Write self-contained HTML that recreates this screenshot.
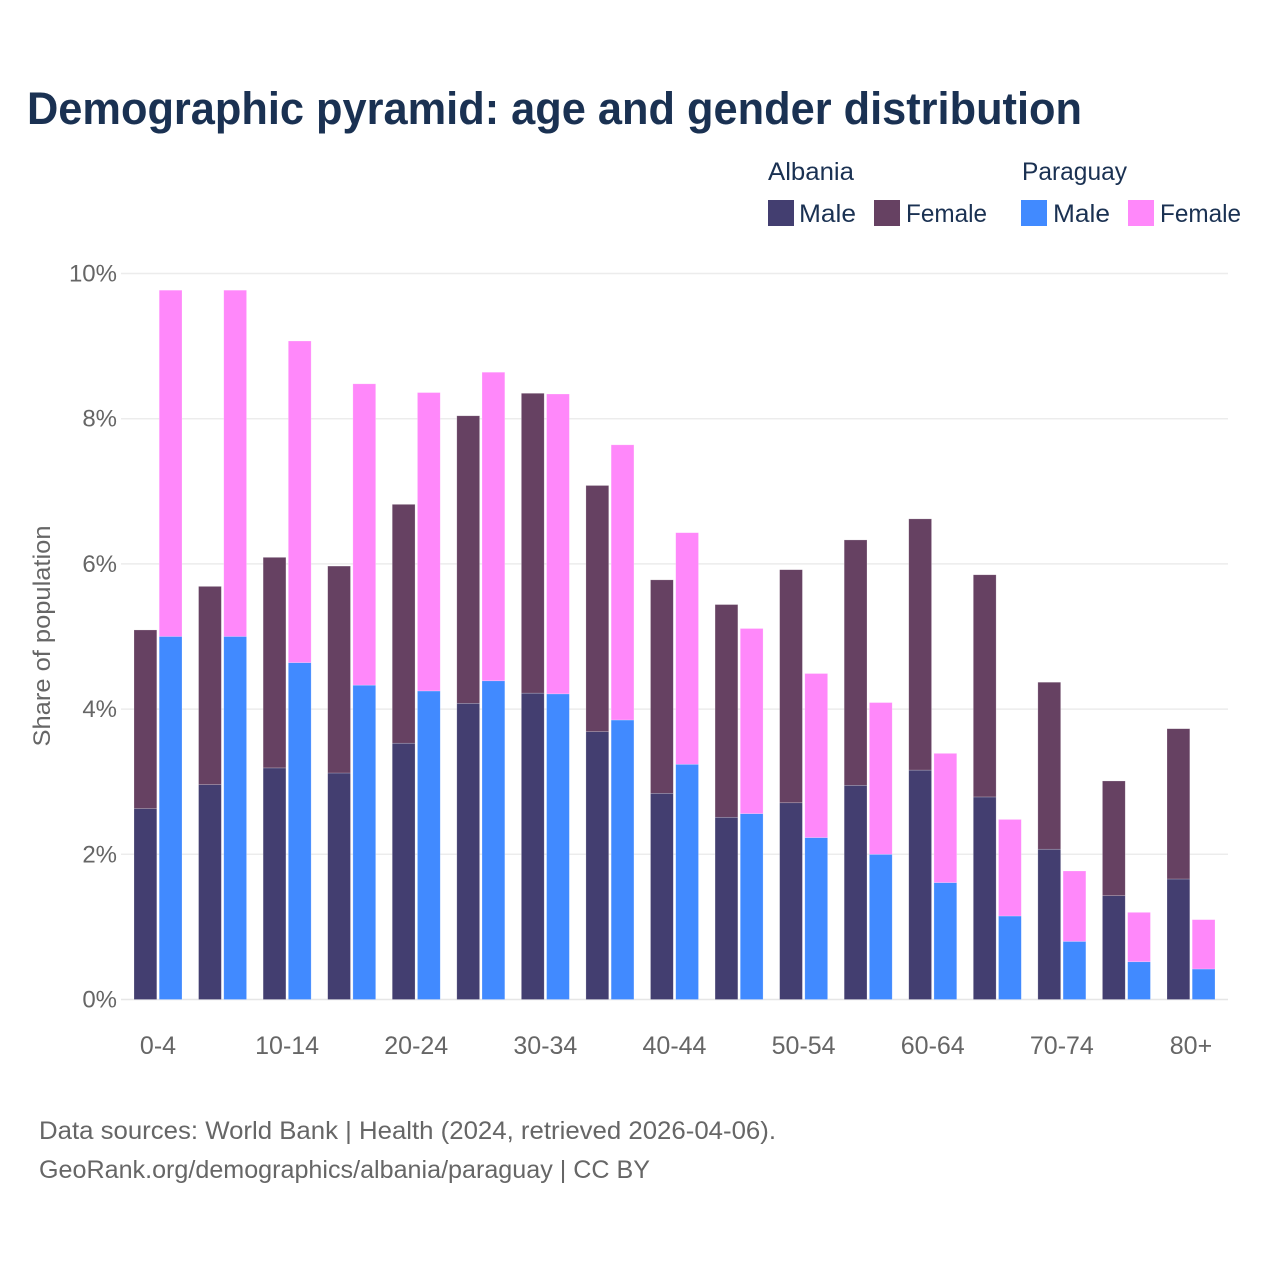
<!DOCTYPE html>
<html lang="en">
<head>
<meta charset="utf-8">
<title>Demographic pyramid: age and gender distribution</title>
<style>
html,body{margin:0;padding:0;background:#fff;}
svg{display:block;font-family:"Liberation Sans",sans-serif;}
</style>
</head>
<body>
<svg id="chart" xmlns="http://www.w3.org/2000/svg" width="1280" height="1280" viewBox="0 0 1280 1280">
  <rect x="0" y="0" width="1280" height="1280" fill="#ffffff"/>
  <text x="27" y="124" font-size="45" font-weight="700" fill="#1a3152" textLength="1055" lengthAdjust="spacingAndGlyphs">Demographic pyramid: age and gender distribution</text>

  <g font-size="25" fill="#1a3152">
    <text x="768" y="180" textLength="86" lengthAdjust="spacingAndGlyphs">Albania</text>
    <text x="1022" y="180" textLength="105" lengthAdjust="spacingAndGlyphs">Paraguay</text>
    <rect x="768" y="200" width="26" height="26" fill="#433e70"/>
    <text x="799" y="222" textLength="57" lengthAdjust="spacingAndGlyphs">Male</text>
    <rect x="874" y="200" width="26" height="26" fill="#664162"/>
    <text x="906" y="222" textLength="81" lengthAdjust="spacingAndGlyphs">Female</text>
    <rect x="1021" y="200" width="26" height="26" fill="#418aff"/>
    <text x="1053" y="222" textLength="57" lengthAdjust="spacingAndGlyphs">Male</text>
    <rect x="1128" y="200" width="26" height="26" fill="#ff88fa"/>
    <text x="1160" y="222" textLength="81" lengthAdjust="spacingAndGlyphs">Female</text>
  </g>

  <text transform="translate(50,636) rotate(-90)" text-anchor="middle" font-size="24" fill="#666666" textLength="221" lengthAdjust="spacingAndGlyphs">Share of population</text>
  <g id="grid"></g>
  <g id="yticks"></g>
  <g id="bars"></g>
  <g id="xticks"></g>

  <text x="39" y="1139" font-size="25" fill="#666666" textLength="737" lengthAdjust="spacingAndGlyphs">Data sources: World Bank | Health (2024, retrieved 2026-04-06).</text>
  <text x="39" y="1178" font-size="25" fill="#666666" textLength="611" lengthAdjust="spacingAndGlyphs">GeoRank.org/demographics/albania/paraguay | CC BY</text>
</svg>
<script>
const categories = ["0-4","5-9","10-14","15-19","20-24","25-29","30-34","35-39","40-44","45-49","50-54","55-59","60-64","65-69","70-74","75-79","80+"];
const albaniaMale = [2.63,2.96,3.19,3.12,3.53,4.08,4.22,3.69,2.84,2.51,2.71,2.95,3.16,2.79,2.07,1.43,1.66];
const albaniaFemale = [2.46,2.73,2.90,2.85,3.29,3.96,4.13,3.39,2.94,2.93,3.21,3.38,3.46,3.06,2.30,1.58,2.07];
const paraguayMale = [5.00,5.00,4.64,4.33,4.25,4.39,4.21,3.85,3.24,2.56,2.23,2.00,1.61,1.15,0.80,0.52,0.42];
const paraguayFemale = [4.77,4.77,4.43,4.15,4.11,4.25,4.13,3.79,3.19,2.55,2.26,2.09,1.78,1.33,0.97,0.68,0.68];
const yTicks = [0,2,4,6,8,10];
const xTickLabels = ["0-4","","10-14","","20-24","","30-34","","40-44","","50-54","","60-64","","70-74","","80+"];

const NS = "http://www.w3.org/2000/svg";
const plotLeft = 121, plotRight = 1228, y0 = 999.5, y10 = 273.5;
const firstCenter = 158, step = (1191 - 158) / 16, barW = 22.8, gap = 1.2;
const yScale = v => y0 - (v / 10) * (y0 - y10);
const xCenter = i => firstCenter + step * i;

function mk(tag, attrs, parent, text) {
  const el = document.createElementNS(NS, tag);
  for (const k in attrs) el.setAttribute(k, attrs[k]);
  if (text !== undefined) el.textContent = text;
  parent.appendChild(el);
  return el;
}

const grid = document.getElementById("grid");
const yt = document.getElementById("yticks");
yTicks.forEach(t => {
  const line = mk("line", {x1: plotLeft, x2: plotRight, y1: yScale(t), y2: yScale(t), stroke: t === 0 ? "#e6e6e6" : "#ececec", "stroke-width": 1.5}, grid);
  
  
  const label = mk("text", {x: 117, y: yScale(t) + 8, "text-anchor": "end", "font-size": 24, fill: "#666666"}, yt, t + "%");
  
  
});

const barsG = document.getElementById("bars");
function seg(x, base, v, color, country, sex, cat) {
  const top = yScale(base + v), bottom = yScale(base);
  const r = mk("rect", {x: x, y: top, width: barW, height: bottom - top, fill: color, stroke: "#ffffff", "stroke-opacity": 0.35, "stroke-width": 0.6}, barsG);
  
  
}
categories.forEach((c, i) => {
  const cx = xCenter(i);
  const xa = cx - gap - barW, xp = cx + gap;
  seg(xa, 0, albaniaMale[i], "#433e70", "albania", "male", c);
  seg(xa, albaniaMale[i], albaniaFemale[i], "#664162", "albania", "female", c);
  seg(xp, 0, paraguayMale[i], "#418aff", "paraguay", "male", c);
  seg(xp, paraguayMale[i], paraguayFemale[i], "#ff88fa", "paraguay", "female", c);
});

const xt = document.getElementById("xticks");
xTickLabels.forEach((l, i) => {
  if (!l) return;
  const label = mk("text", {x: xCenter(i), y: 1054, "text-anchor": "middle", "font-size": 25, fill: "#666666"}, xt, l);
  
  
});
</script>
</body>
</html>
